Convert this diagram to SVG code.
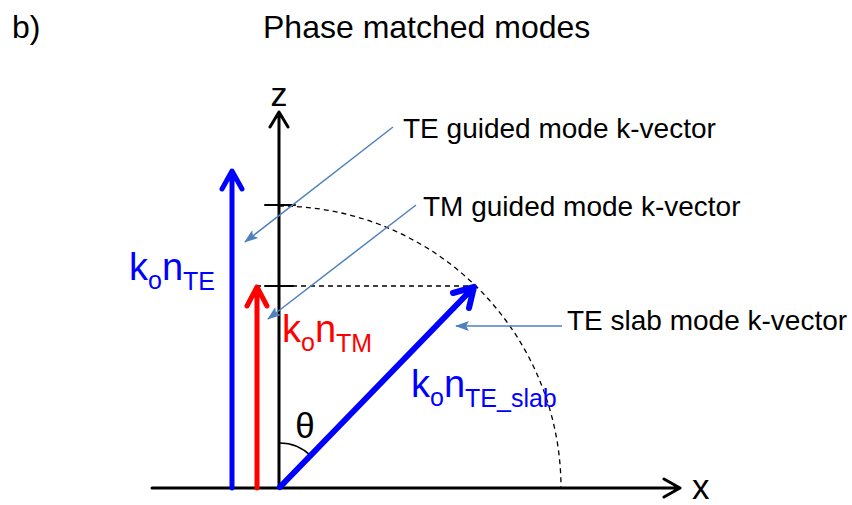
<svg xmlns="http://www.w3.org/2000/svg" width="852" height="505" viewBox="0 0 852 505">
<defs>
<marker id="lead" markerWidth="14" markerHeight="10" refX="13" refY="5" orient="auto" markerUnits="userSpaceOnUse">
<path d="M0,0 L14,5 L0,10 L3,5 Z" fill="#4F81BD"/>
</marker>
<style>
text{font-family:"Liberation Sans",Arial,sans-serif;}
.lbl{font-size:28px;fill:#000;}
.ax{stroke:#000;stroke-width:3;fill:none;stroke-linecap:round;stroke-linejoin:round;}
.dash{stroke:#000;stroke-width:1.3;fill:none;stroke-dasharray:5,4;}
.lead{stroke:#4F81BD;stroke-width:1.5;fill:none;}
.big{font-size:38px;}
.sub{font-size:25px;}
</style>
</defs>
<rect width="852" height="505" fill="#fff"/>
<text x="12" y="38" style="font-size:32px">b)</text>
<text x="263" y="38" style="font-size:32px">Phase matched modes</text>

<g id="axes">
<path class="ax" d="M152,488 H680 M664,479 L680,488 L664,497"/>
<path class="ax" d="M279,488 V112 M270,127 L279,112 L288,127"/>
<path class="ax" style="stroke-width:2" d="M265,205 H295 M265,286 H293"/>
<text x="279" y="106" text-anchor="middle" style="font-size:34px">z</text>
<text x="692" y="499" style="font-size:35px">x</text>
</g>

<g id="circle">
<path class="dash" d="M279,206 A282,282 0 0 1 561,488"/>
<path class="dash" d="M256,286 H475"/>
</g>

<g id="theta">
<path d="M279,443 A45,45 0 0 1 311,456" stroke="#000" stroke-width="1.5" fill="none"/>
<text x="305" y="438" text-anchor="middle" style="font-size:35px">θ</text>
</g>

<g id="te-vector">
<path d="M232,488 V172 M222,189 L232,171 L242,189" stroke="#0000FF" stroke-width="5" fill="none" stroke-linecap="round" stroke-linejoin="round"/>
<text x="129" y="280" fill="#0000FF"><tspan class="big">k</tspan><tspan class="sub" dy="9">o</tspan><tspan class="big" dy="-9">n</tspan><tspan class="sub" dy="10">TE</tspan></text>
</g>

<g id="tm-vector">
<path d="M257,488 V288 M247,306 L257,287 L267,306" stroke="#FF0000" stroke-width="5" fill="none" stroke-linecap="round" stroke-linejoin="round"/>
<text x="282" y="342" fill="#FF0000"><tspan class="big">k</tspan><tspan class="sub" dy="9">o</tspan><tspan class="big" dy="-9">n</tspan><tspan class="sub" dy="10">TM</tspan></text>
</g>

<g id="slab-vector">
<path d="M280,487 L474,287 M453,293 L474,287 L469,308" stroke="#0000FF" stroke-width="6" fill="none" stroke-linecap="round" stroke-linejoin="round"/>
<text x="411" y="397" fill="#0000FF"><tspan class="big">k</tspan><tspan class="sub" dy="9">o</tspan><tspan class="big" dy="-9">n</tspan><tspan class="sub" dy="10">TE_slab</tspan></text>
</g>

<g id="connectors">
<path class="lead" d="M393,127 L245,242" marker-end="url(#lead)"/>
<path class="lead" d="M416,205 L268,319" marker-end="url(#lead)"/>
<path class="lead" d="M562,326 L456,326" marker-end="url(#lead)"/>
</g>

<g id="labels">
<text class="lbl" x="403" y="138">TE guided mode k-vector</text>
<text class="lbl" x="423" y="216">TM guided mode k-vector</text>
<text class="lbl" x="567" y="330">TE slab mode k-vector</text>
</g>
</svg>
